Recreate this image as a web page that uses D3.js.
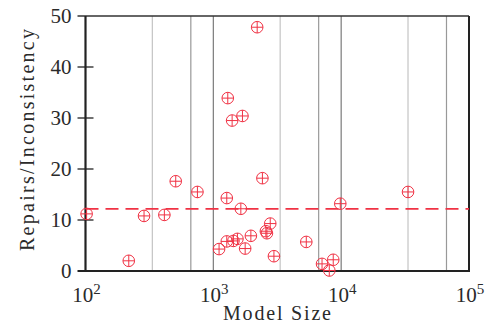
<!DOCTYPE html>
<html>
<head>
<meta charset="utf-8">
<script src="https://cdn.jsdelivr.net/npm/d3@7"></script>
<style>
  body { margin: 0; background: #fff; }
  text { font-family: "Liberation Serif", "DejaVu Serif", serif; fill: #2a2a2a; }
</style>
</head>
<body>
<div id="chart"></div>
<script>
// model sizes (x) and repairs per inconsistency (y)
const modelSizes = [102, 218, 287, 414, 508, 751, 1109, 1274, 1274, 1297, 1403, 1436, 1544,
  1641, 1690, 1774, 1966, 2203, 2421, 2576, 2625, 2787, 2979, 5335, 7086, 8075, 8670, 9840, 33340];
const repairs = [11.2, 2.0, 10.8, 11.0, 17.6, 15.5, 4.3, 5.8, 14.3, 33.9, 29.5, 5.9, 6.3,
  12.2, 30.4, 4.4, 6.9, 47.8, 18.2, 7.8, 7.4, 9.3, 2.9, 5.7, 1.4, 0.1, 2.2, 13.2, 15.5];
const meanRepairs = 12.2;

const xTicks = [1e2, 1e3, 1e4, 1e5];
const yTicks = [0, 10, 20, 30, 40, 50];
const lightGrid = [333.3, 3333, 33333];
const midGrid = [666.7, 6667, 66667];
const decadeGrid = [1e3, 1e4];

const width = 490, height = 326;
const margin = { top: 16, right: 21, bottom: 55, left: 85.5 };
const red = "#f03244";

const svg = d3.select("#chart").append("svg")
  .attr("width", width).attr("height", height);

const x = d3.scaleLog().domain([1e2, 1e5]).range([margin.left, width - margin.right]);
const y = d3.scaleLinear().domain([0, 50]).range([height - margin.bottom, margin.top]);

const grid = svg.append("g");
function vlines(vals, color) {
  grid.selectAll(null).data(vals).enter().append("line")
    .attr("x1", d => x(d)).attr("x2", d => x(d))
    .attr("y1", y(0)).attr("y2", y(50))
    .attr("stroke", color).attr("stroke-width", 1.2);
}
vlines(lightGrid, "#c4c4c4");
vlines(midGrid, "#999");
vlines(decadeGrid, "#7a7a7a");

// frame
svg.append("line").attr("x1", x(1e2) - 8).attr("x2", x(1e5)).attr("y1", y(50)).attr("y2", y(50))
  .attr("stroke", "#333").attr("stroke-width", 1.6);
svg.append("line").attr("x1", x(1e5)).attr("x2", x(1e5)).attr("y1", y(50)).attr("y2", y(0))
  .attr("stroke", "#222").attr("stroke-width", 2);
svg.append("line").attr("x1", x(1e2)).attr("x2", x(1e2)).attr("y1", y(50)).attr("y2", y(0))
  .attr("stroke", "#222").attr("stroke-width", 2.2);
svg.append("line").attr("x1", x(1e2) - 8).attr("x2", x(1e5) + 1).attr("y1", y(0)).attr("y2", y(0))
  .attr("stroke", "#222").attr("stroke-width", 2.2);

// y ticks
const yt = svg.append("g");
yt.selectAll("line").data(yTicks.slice(1, -1)).enter().append("line")
  .attr("x1", x(1e2) - 8).attr("x2", x(1e2) + 8)
  .attr("y1", d => y(d)).attr("y2", d => y(d))
  .attr("stroke", "#222").attr("stroke-width", 1.3);
yt.selectAll("text").data(yTicks).enter().append("text")
  .attr("x", x(1e2) - 14).attr("y", d => y(d) + 7)
  .attr("text-anchor", "end").attr("font-size", 21)
  .text(d => d);

// x tick labels 10^n
const xt = svg.append("g");
xTicks.forEach(v => {
  const t = xt.append("text")
    .attr("x", x(v) + 1).attr("y", y(0) + 31)
    .attr("text-anchor", "middle").attr("font-size", 21);
  t.append("tspan").text("10");
  t.append("tspan").attr("dy", -8).attr("font-size", 15).text(Math.round(Math.log10(v)));
});

// axis titles
svg.append("text").attr("x", 277).attr("y", 320)
  .attr("text-anchor", "middle").attr("font-size", 20)
  .attr("textLength", 108).attr("lengthAdjust", "spacing").text("Model Size");
svg.append("text")
  .attr("transform", `translate(34,140) rotate(-90)`)
  .attr("text-anchor", "middle").attr("font-size", 20)
  .attr("textLength", 222).attr("lengthAdjust", "spacing").text("Repairs/Inconsistency");

// mean line
svg.append("line")
  .attr("x1", x(1e2)).attr("x2", x(1e5))
  .attr("y1", y(meanRepairs)).attr("y2", y(meanRepairs))
  .attr("stroke", red).attr("stroke-width", 1.8).attr("stroke-dasharray", "13,7");

// markers: circle with plus
const r = 5.8;
const pts = svg.append("g").selectAll("g")
  .data(modelSizes.map((s, i) => [s, repairs[i]]))
  .enter().append("g")
  .attr("transform", d => `translate(${x(d[0])},${y(d[1])})`)
  .attr("stroke", red).attr("stroke-width", 1).attr("fill", "none");
pts.append("circle").attr("r", r);
pts.append("line").attr("x1", -r).attr("x2", r);
pts.append("line").attr("y1", -r).attr("y2", r);
</script>
</body>
</html>
